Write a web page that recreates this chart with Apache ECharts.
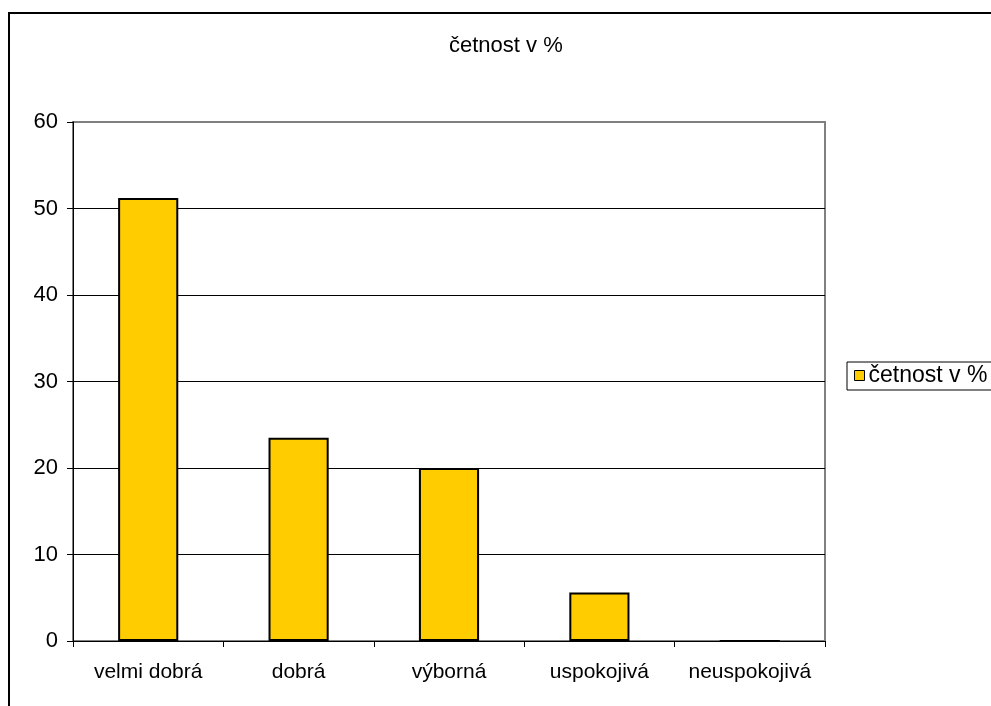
<!DOCTYPE html>
<html>
<head>
<meta charset="utf-8">
<script src="https://cdn.jsdelivr.net/npm/echarts@6/dist/echarts.min.js"></script>
<style>
  html, body { margin: 0; padding: 0; background: #fff; }
  #chart { width: 991px; height: 706px; }
</style>
</head>
<body>
<div id="chart"></div>
<script>
// Hodnocení – četnost odpovědí v procentech
const categories = ['velmi dobrá', 'dobrá', 'výborná', 'uspokojivá', 'neuspokojivá'];
const values = [51.2, 23.5, 20.0, 5.6, 0];
const seriesName = 'četnost v %';
const chartTitle = 'četnost v %';

const FONT = '"Liberation Sans", Arial, sans-serif';

const chart = echarts.init(document.getElementById('chart'), null, { renderer: 'canvas' });

chart.setOption({
  backgroundColor: '#fff',
  animation: false,
  textStyle: { fontFamily: FONT, color: '#000' },
  title: {
    text: chartTitle,
    left: 449,
    top: 35,
    padding: 0,
    textStyle: { fontFamily: FONT, fontSize: 22, fontWeight: 'normal', color: '#000' }
  },
  graphic: [
    {
      // outer chart frame
      type: 'rect',
      shape: { x: 9, y: 13, width: 1100, height: 800 },
      style: { fill: 'none', stroke: '#000', lineWidth: 2 },
      silent: true,
      z: 100
    }
  ],
  legend: {
    left: 847,
    top: 362,
    orient: 'vertical',
    padding: [2, 20, 3, 7],
    borderColor: '#000',
    borderWidth: 1,
    itemWidth: 10,
    itemHeight: 10,
    itemGap: 6,
    icon: 'rect',
    itemStyle: { borderColor: '#000', borderWidth: 1 },
    textStyle: { fontFamily: FONT, fontSize: 23, color: '#000', padding: [0, 0, 0, -1] },
    data: [seriesName]
  },
  grid: {
    left: 73,
    right: 166,
    top: 122,
    bottom: 65,
    show: true,
    borderColor: '#808080',
    borderWidth: 2,
    backgroundColor: '#fff'
  },
  xAxis: {
    type: 'category',
    data: categories,
    axisLine: { show: true, lineStyle: { color: '#000', width: 1 } },
    axisTick: { show: true, interval: 0, alignWithLabel: false, length: 6, lineStyle: { color: '#000' } },
    axisLabel: { interval: 0, hideOverlap: false, fontFamily: FONT, fontSize: 21, color: '#000', margin: 21 },
    splitLine: { show: false }
  },
  yAxis: {
    type: 'value',
    min: 0,
    max: 60,
    interval: 10,
    axisLine: { show: true, lineStyle: { color: '#000', width: 1 } },
    axisTick: { show: true, length: 6, lineStyle: { color: '#000' } },
    axisLabel: { fontFamily: FONT, fontSize: 22, color: '#000', margin: 15 },
    splitLine: { show: true, showMinLine: false, showMaxLine: false, lineStyle: { color: '#000', width: 1 } }
  },
  series: [
    {
      name: seriesName,
      type: 'bar',
      data: values,
      barWidth: '40%',
      itemStyle: { color: '#FFCC00', borderColor: '#000', borderWidth: 2 }
    }
  ]
});
</script>
</body>
</html>
